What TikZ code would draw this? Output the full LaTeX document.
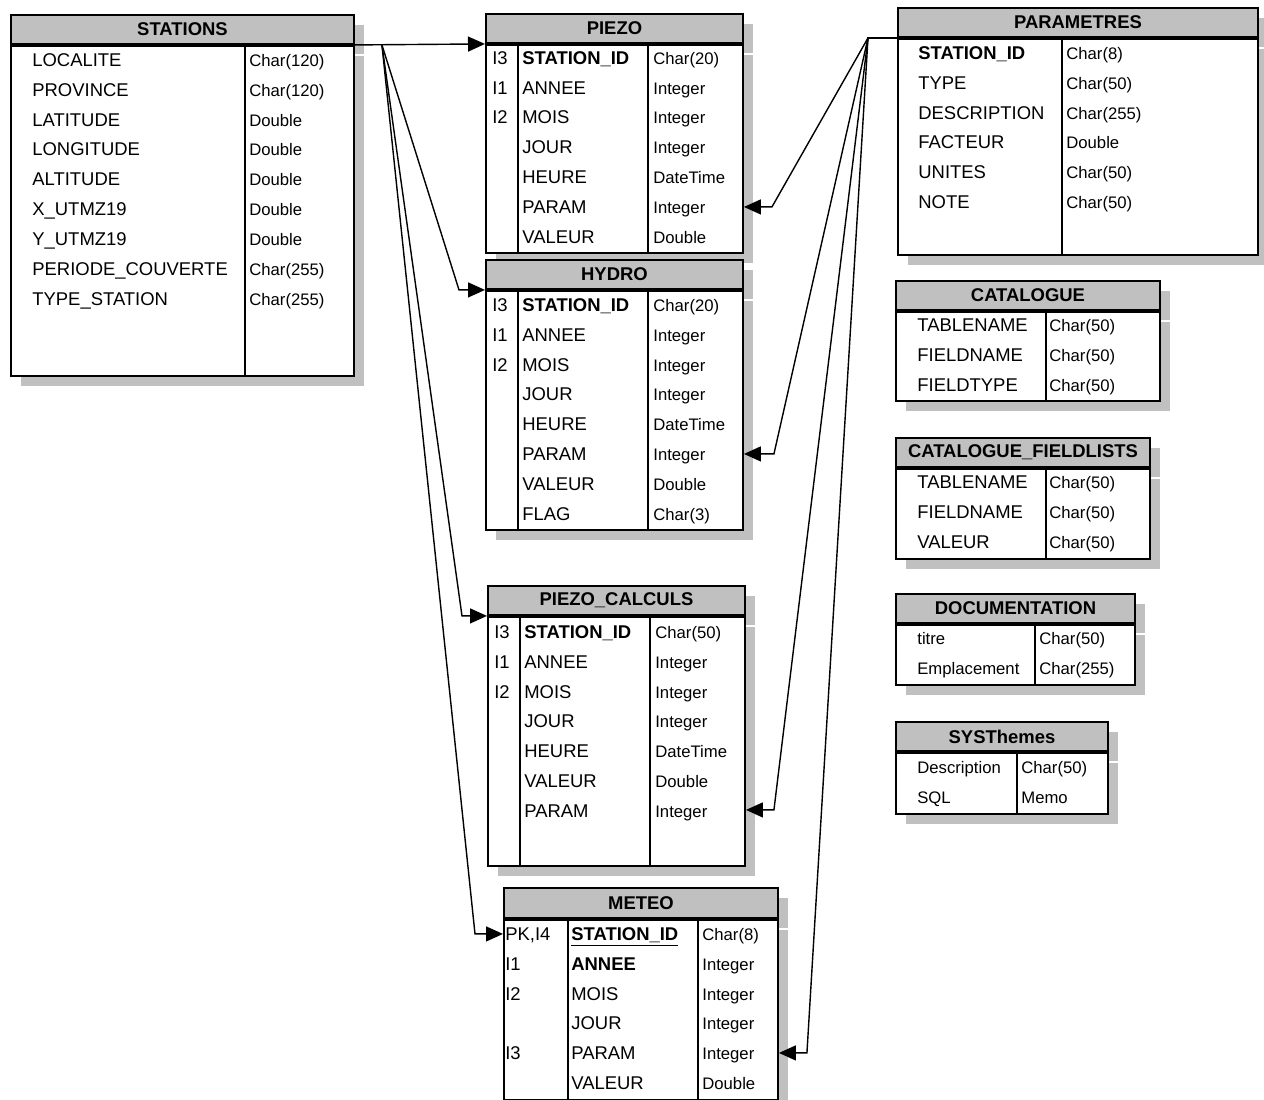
\documentclass[tikz,border=0pt]{standalone}
\usepackage{fontspec}
\setmainfont{Liberation Sans}
\usepackage{tikz}
\usetikzlibrary{calc}
\usetikzlibrary{arrows.meta,shadows}
\definecolor{TblGray}{RGB}{192,192,192}

\begin{document}
\begin{tikzpicture}[
        x=0.02cm,y=-0.02cm,
        HeadCfg/.style={
            draw,
            fill=TblGray,
            line width=1.1pt,
            anchor=north west,
            inner sep=0pt,
            minimum height=29*0.02cm,
            font=\bfseries\fontsize{10.5}{12}\selectfont,
            general shadow={fill=TblGray,shadow xshift=0.2cm,shadow yshift=-0.2cm}
        },
        BodyCfg/.style={
            draw,
            fill=white,
            line width=1.1pt,
            anchor=north west,
            inner sep=0pt,
            general shadow={fill=TblGray,shadow xshift=0.2cm,shadow yshift=-0.2cm}
        },
        NameCfg/.style={anchor=north west,inner sep=0pt,align=left,font=\fontsize{10.5}{17}\selectfont},
        TypeCfg/.style={anchor=north west,inner sep=0pt,align=left,font=\fontsize{9.5}{17}\selectfont},
        DivCfg/.style={line width=1.1pt},
        LinkCfg/.style={line width=0.8pt,-{Triangle[length=0.34cm,width=0.3cm]}}
    ]

    \useasboundingbox (0,0) rectangle (1264,1099);

    %STATIONS
    \node[HeadCfg,minimum width=343*0.02cm] (stations) at (10,14) {STATIONS};
    \node[BodyCfg,minimum width=343*0.02cm,minimum height=330*0.02cm] (stations-b) at (stations.south west) {};
    \draw[DivCfg] (stations-b.north west)++(235,0)--++(0,330);
    \node[NameCfg] (stations-n) at (32,45) {\strut LOCALITE\\PROVINCE\\LATITUDE\\LONGITUDE\\ALTITUDE\\X\_UTMZ19\\Y\_UTMZ19\\PERIODE\_COUVERTE\\TYPE\_STATION};
    \node[TypeCfg] (stations-t) at (249,45) {\strut Char(120)\\Char(120)\\Double\\Double\\Double\\Double\\Double\\Char(255)\\Char(255)};

    %PIEZO
    \node[HeadCfg,minimum width=257*0.02cm] (piezo) at (485,13) {PIEZO};
    \node[BodyCfg,minimum width=257*0.02cm,minimum height=208*0.02cm] (piezo-b) at (piezo.south west) {};
    \draw[DivCfg] (piezo-b.north west)++(33,0)--++(0,208);
    \draw[DivCfg] (piezo-b.north west)++(163,0)--++(0,208);
    \node[NameCfg] (piezo-k) at (492,43) {\strut I3\\I1\\I2};
    \node[NameCfg] (piezo-n) at (522,43) {\strut\textbf{STATION\_ID}\\ANNEE\\MOIS\\JOUR\\HEURE\\PARAM\\VALEUR};
    \node[TypeCfg] (piezo-t) at (653,43) {\strut Char(20)\\Integer\\Integer\\Integer\\DateTime\\Integer\\Double};

    %HYDRO
    \node[HeadCfg,minimum width=257*0.02cm] (hydro) at (485,259) {HYDRO};
    \node[BodyCfg,minimum width=257*0.02cm,minimum height=239*0.02cm] (hydro-b) at (hydro.south west) {};
    \draw[DivCfg] (hydro-b.north west)++(33,0)--++(0,239);
    \draw[DivCfg] (hydro-b.north west)++(163,0)--++(0,239);
    \node[NameCfg] (hydro-k) at (492,290) {\strut I3\\I1\\I2};
    \node[NameCfg] (hydro-n) at (522,290) {\strut\textbf{STATION\_ID}\\ANNEE\\MOIS\\JOUR\\HEURE\\PARAM\\VALEUR\\FLAG};
    \node[TypeCfg] (hydro-t) at (653,290) {\strut Char(20)\\Integer\\Integer\\Integer\\DateTime\\Integer\\Double\\Char(3)};

    %PIEZO_CALCULS
    \node[HeadCfg,minimum width=257*0.02cm] (pcalc) at (487,585) {PIEZO\_CALCULS};
    \node[BodyCfg,minimum width=257*0.02cm,minimum height=249*0.02cm] (pcalc-b) at (pcalc.south west) {};
    \draw[DivCfg] (pcalc-b.north west)++(33,0)--++(0,249);
    \draw[DivCfg] (pcalc-b.north west)++(163,0)--++(0,249);
    \node[NameCfg] (pcalc-k) at (494,617) {\strut I3\\I1\\I2};
    \node[NameCfg] (pcalc-n) at (524,617) {\strut\textbf{STATION\_ID}\\ANNEE\\MOIS\\JOUR\\HEURE\\VALEUR\\PARAM};
    \node[TypeCfg] (pcalc-t) at (655,617) {\strut Char(50)\\Integer\\Integer\\Integer\\DateTime\\Double\\Integer};

    %METEO
    \node[HeadCfg,minimum width=274*0.02cm,minimum height=30*0.02cm] (meteo) at (503,887) {METEO};
    \node[BodyCfg,minimum width=274*0.02cm,minimum height=180*0.02cm] (meteo-b) at (meteo.south west) {};
    \draw[DivCfg] (meteo-b.north west)++(65,0)--++(0,180);
    \draw[DivCfg] (meteo-b.north west)++(195,0)--++(0,180);
    \node[NameCfg] (meteo-k) at (505,919) {\strut PK,I4\\I1\\I2\\\\I3};
    \node[NameCfg] (meteo-n) at (571,919) {\strut\underline{\textbf{STATION\_ID}}\\\textbf{ANNEE}\\MOIS\\JOUR\\PARAM\\VALEUR};
    \node[TypeCfg] (meteo-t) at (702,919) {\strut Char(8)\\Integer\\Integer\\Integer\\Integer\\Double};

    %PARAMETRES
    \node[HeadCfg,minimum width=360*0.02cm] (param) at (897,7) {PARAMETRES};
    \node[BodyCfg,minimum width=360*0.02cm,minimum height=216*0.02cm] (param-b) at (param.south west) {};
    \draw[DivCfg] (param-b.north west)++(165,0)--++(0,216);
    \node[NameCfg] (param-n) at (918,38) {\strut\textbf{STATION\_ID}\\TYPE\\DESCRIPTION\\FACTEUR\\UNITES\\NOTE};
    \node[TypeCfg] (param-t) at (1066,38) {\strut Char(8)\\Char(50)\\Char(255)\\Double\\Char(50)\\Char(50)};

    %CATALOGUE
    \node[HeadCfg,minimum width=264*0.02cm] (cat) at (895,280) {CATALOGUE};
    \node[BodyCfg,minimum width=264*0.02cm,minimum height=89*0.02cm] (cat-b) at (cat.south west) {};
    \draw[DivCfg] (cat-b.north west)++(151,0)--++(0,89);
    \node[NameCfg] (cat-n) at (917,310) {\strut TABLENAME\\FIELDNAME\\FIELDTYPE};
    \node[TypeCfg] (cat-t) at (1049,310) {\strut Char(50)\\Char(50)\\Char(50)};

    %CATALOGUE_FIELDLISTS
    \node[HeadCfg,minimum width=254*0.02cm] (catfl) at (895,437) {CATALOGUE\_FIELDLISTS};
    \node[BodyCfg,minimum width=254*0.02cm,minimum height=90*0.02cm] (catfl-b) at (catfl.south west) {};
    \draw[DivCfg] (catfl-b.north west)++(151,0)--++(0,90);
    \node[NameCfg] (catfl-n) at (917,467) {\strut TABLENAME\\FIELDNAME\\VALEUR};
    \node[TypeCfg] (catfl-t) at (1049,467) {\strut Char(50)\\Char(50)\\Char(50)};

    %DOCUMENTATION
    \node[HeadCfg,minimum width=239*0.02cm] (doc) at (895,593) {DOCUMENTATION};
    \node[BodyCfg,minimum width=239*0.02cm,minimum height=60*0.02cm] (doc-b) at (doc.south west) {};
    \draw[DivCfg] (doc-b.north west)++(140,0)--++(0,60);
    \node[TypeCfg] (doc-n) at (917,623) {\strut titre\\Emplacement};
    \node[TypeCfg] (doc-t) at (1039,623) {\strut Char(50)\\Char(255)};

    %SYSThemes
    \node[HeadCfg,minimum width=212*0.02cm] (sys) at (895,721) {SYSThemes};
    \node[BodyCfg,minimum width=212*0.02cm,minimum height=61*0.02cm] (sys-b) at (sys.south west) {};
    \draw[DivCfg] (sys-b.north west)++(122,0)--++(0,61);
    \node[TypeCfg] (sys-n) at (917,752) {\strut Description\\SQL};
    \node[TypeCfg] (sys-t) at (1021,752) {\strut Char(50)\\Memo};

    %connections
    \coordinate (fanS) at ($(stations.south east)+(27,0)$);
    \coordinate (fanP) at ($(param.south west)+(-29,0)$);
    \draw[LinkCfg] (stations.south east)--(piezo.south west);
    \draw[LinkCfg] (fanS)--($(hydro.south west)+(-26,0)$)--(hydro.south west);
    \draw[LinkCfg] (fanS)--($(pcalc.south west)+(-25,0)$)--(pcalc.south west);
    \draw[LinkCfg] (fanS)--($(meteo-b.north west)+(-28,15)$)--($(meteo-b.north west)+(0,15)$);
    \draw[LinkCfg] (param.south west)--(fanP)--($(piezo-b.north east)+(28,163)$)--($(piezo-b.north east)+(0,163)$);
    \draw[LinkCfg] (param.south west)--(fanP)--($(hydro-b.north east)+(30,164)$)--($(hydro-b.north east)+(0,164)$);
    \draw[LinkCfg] (param.south west)--(fanP)--($(pcalc-b.north east)+(28,194)$)--($(pcalc-b.north east)+(0,194)$);
    \draw[LinkCfg] (param.south west)--(fanP)--($(meteo-b.north east)+(28,134)$)--($(meteo-b.north east)+(0,134)$);

\end{tikzpicture}
\end{document}
